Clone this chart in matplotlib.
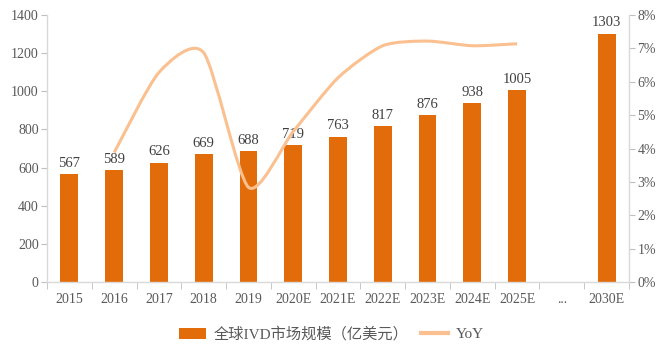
import numpy as np
import matplotlib
matplotlib.use("Agg")
import matplotlib.pyplot as plt
from matplotlib.path import Path
from matplotlib.patches import PathPatch, Patch
from matplotlib.lines import Line2D
from matplotlib.ticker import FuncFormatter, FixedLocator

plt.rcParams['font.family'] = ['Liberation Serif', 'Noto Sans CJK SC']

categories = ['2015', '2016', '2017', '2018', '2019', '2020E', '2021E', '2022E',
              '2023E', '2024E', '2025E', '...', '2030E']
market = [567, 589, 626, 669, 688, 719, 763, 817, 876, 938, 1005, None, 1303]
yoy_categories = ['2016', '2017', '2018', '2019', '2020E', '2021E', '2022E',
                  '2023E', '2024E', '2025E']
yoy = [3.88, 6.28, 6.87, 2.84, 4.51, 6.12, 7.08, 7.22, 7.08, 7.14]

bar_color = '#E36C0A'
line_color = '#FAC090'
grey = '#BFBFBF'
text_grey = '#595959'

fig = plt.figure(figsize=(6.67, 3.58), dpi=100)
ax = fig.add_axes([0.0705, 0.212, 0.8725, 0.746])
ax2 = ax.twinx()

x = np.arange(len(categories))
for xi, v in zip(x, market):
    if v is None:
        continue
    ax.bar(xi, v, width=0.4, color=bar_color, zorder=2)
    ax.text(xi, v + 22, str(v), ha='center', va='bottom', fontsize=10.5, color='#404040')

ax.set_xlim(-0.5, len(categories) - 0.5)
ax.set_ylim(0, 1400)
ax.set_yticks(np.arange(0, 1401, 200))
ax.set_xticks(x)
ax.set_xticklabels(categories)
ax.xaxis.set_minor_locator(FixedLocator(np.arange(-0.5, len(categories), 1.0)))
ax.tick_params(axis='x', which='major', length=0, pad=8, labelsize=10, labelcolor=text_grey)
ax.tick_params(axis='x', which='minor', length=5, color=grey, direction='out')
ax.tick_params(axis='y', length=4, color=grey, labelsize=10, labelcolor=text_grey, pad=2)

# Smooth YoY line (Catmull-Rom style bezier through data points)
xs = np.array([categories.index(c) for c in yoy_categories], dtype=float)
ys = np.array(yoy, dtype=float)
verts = [(xs[0], ys[0])]
codes = [Path.MOVETO]
n = len(xs)
t = 0.12
for i in range(n - 1):
    p0 = (xs[i - 1], ys[i - 1]) if i > 0 else (xs[i], ys[i])
    p1 = (xs[i], ys[i])
    p2 = (xs[i + 1], ys[i + 1])
    p3 = (xs[i + 2], ys[i + 2]) if i + 2 < n else p2
    c1 = (p1[0] + (p2[0] - p0[0]) * t, p1[1] + (p2[1] - p0[1]) * t)
    c2 = (p2[0] - (p3[0] - p1[0]) * t, p2[1] - (p3[1] - p1[1]) * t)
    verts += [c1, c2, p2]
    codes += [Path.CURVE4] * 3
ax2.add_patch(PathPatch(Path(verts, codes), facecolor='none', edgecolor=line_color,
                        lw=2.2, capstyle='butt', zorder=3))
ax2.set_ylim(0, 8)
ax2.set_yticks(np.arange(0, 9, 1))
ax2.yaxis.set_major_formatter(FuncFormatter(lambda v, p: f'{int(v)}%'))
ax2.tick_params(axis='y', length=4, color=grey, labelsize=10, labelcolor=text_grey, pad=2)

for a in (ax, ax2):
    a.spines['top'].set_visible(False)
    for s in ('left', 'right', 'bottom'):
        a.spines[s].set_color('#D9D9D9')
        a.spines[s].set_linewidth(1.0)
ax.spines['right'].set_visible(False)
ax2.spines['left'].set_visible(False)
ax2.spines['bottom'].set_visible(False)

handles = [Patch(facecolor=bar_color, edgecolor='none'),
           Line2D([0], [0], color=line_color, lw=3)]
labels = ['全球IVD市场规模（亿美元）', 'YoY']
fig.legend(handles, labels, loc='center', bbox_to_anchor=(0.497, 0.067), ncol=2,
           frameon=False, fontsize=11, handlelength=1.75, handleheight=0.72,
           columnspacing=0.85, handletextpad=0.5, labelcolor=text_grey)

fig.savefig('out.png', dpi=100)
